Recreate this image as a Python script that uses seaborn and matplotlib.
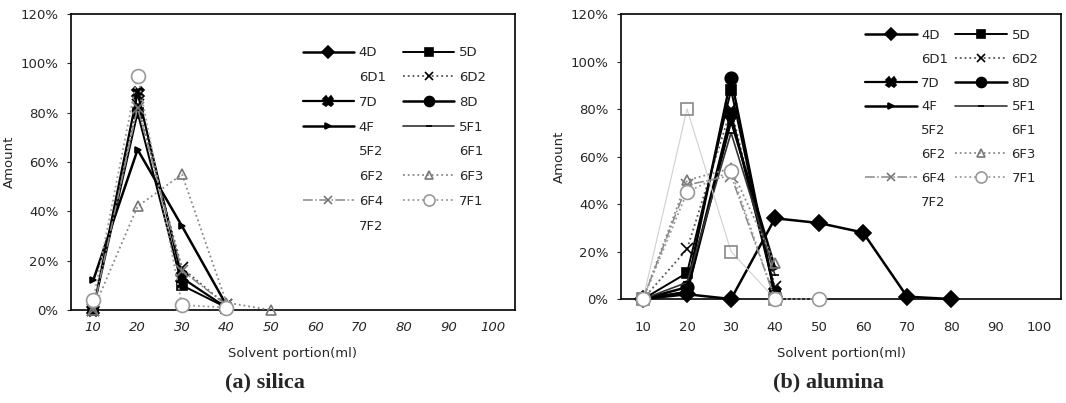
import numpy as np
import pandas as pd
import matplotlib
matplotlib.use("Agg")
import matplotlib.pyplot as plt
from matplotlib.lines import Line2D
from matplotlib.ticker import PercentFormatter
import seaborn as sns

# ---------------- data (percent) ----------------
solvent = [10, 20, 30, 40, 50, 60, 70, 80, 90, 100]
series_names = ["4D", "5D", "6D1", "6D2", "7D", "8D", "4F", "5F1",
                "5F2", "6F1", "6F2", "6F3", "6F4", "7F1", "7F2"]
N = None

# (a) silica
si_5D  = [0, 80, 10, 1, N, N, N, N, N, N]
si_6D2 = [0, 83, 17, 2, N, N, N, N, N, N]
si_7D  = [0, 88, 13, 1, N, N, N, N, N, N]
si_4F  = [12, 65, 34, 2, N, N, N, N, N, N]
si_6F3 = [0, 42, 55, 3, 0, N, N, N, N, N]
si_6F4 = [0, 82, 16, 2, N, N, N, N, N, N]
si_7F1 = [4, 95, 2, 1, N, N, N, N, N, N]

# (b) alumina
al_4D  = [0, 2, 0, 34, 32, 28, 1, 0, N, N]
al_5D  = [0, 11, 88, 2, N, N, N, N, N, N]
al_6D2 = [0, 21, 80, 5, N, N, N, N, N, N]
al_7D  = [0, 3, 78, 3, N, N, N, N, N, N]
al_8D  = [0, 5, 93, 1, N, N, N, N, N, N]
al_4F  = [0, 3, 75, 13, N, N, N, N, N, N]
al_5F1 = [0, 7, 70, 10, N, N, N, N, N, N]
al_5F2 = [0, 80, 20, 0, N, N, N, N, N, N]
al_6F3 = [0, 50, 55, 15, N, N, N, N, N, N]
al_6F4 = [0, 48, 52, 0, N, N, N, N, N, N]
al_7F1 = [0, 45, 54, 0, 0, N, N, N, N, N]

silica = {"5D": si_5D, "6D2": si_6D2, "7D": si_7D, "4F": si_4F,
          "6F3": si_6F3, "6F4": si_6F4, "7F1": si_7F1}
alumina = {"4D": al_4D, "5D": al_5D, "6D2": al_6D2, "7D": al_7D, "8D": al_8D,
           "4F": al_4F, "5F1": al_5F1, "5F2": al_5F2, "6F3": al_6F3,
           "6F4": al_6F4, "7F1": al_7F1}

y_ticks = [0, 20, 40, 60, 80, 100, 120]

# ---------------- styles ----------------
INV = "#f4f4f4"
style = {
    "4D":  dict(color="black", ls="-", lw=1.8, marker="D", ms=8, mfc="black", mec="black"),
    "5D":  dict(color="black", ls="-", lw=1.4, marker="s", ms=7, mfc="black", mec="black"),
    "6D1": dict(color=INV, ls="-", lw=1.0, marker=None, ms=0, mfc=INV, mec=INV),
    "6D2": dict(color="#555555", ls=":", lw=1.3, marker="x", ms=8, mfc="black", mec="black"),
    "7D":  dict(color="black", ls="-", lw=1.6, marker="X", ms=9, mfc="black", mec="black"),
    "8D":  dict(color="black", ls="-", lw=1.8, marker="o", ms=9, mfc="black", mec="black"),
    "4F":  dict(color="black", ls="-", lw=1.8, marker=">", ms=5, mfc="black", mec="black"),
    "5F1": dict(color="#333333", ls="-", lw=1.2, marker="_", ms=6, mfc="black", mec="black"),
    "5F2": dict(color="#d0d0d0", ls="-", lw=0.8, marker="s", ms=8, mfc="none", mec="#888888"),
    "6F1": dict(color=INV, ls="-", lw=1.0, marker=None, ms=0, mfc=INV, mec=INV),
    "6F2": dict(color=INV, ls="-", lw=1.0, marker=None, ms=0, mfc=INV, mec=INV),
    "6F3": dict(color="#888888", ls=":", lw=1.3, marker="^", ms=7, mfc="none", mec="#777777"),
    "6F4": dict(color="#888888", ls="-.", lw=1.1, marker="x", ms=8, mfc="none", mec="#777777"),
    "7F1": dict(color="#999999", ls=":", lw=1.3, marker="o", ms=10, mfc="white", mec="#999999"),
    "7F2": dict(color=INV, ls="-", lw=1.0, marker=None, ms=0, mfc=INV, mec=INV),
}
legend_hidden = {"6D1", "5F2", "6F1", "6F2", "7F2"}

sns.set_style("white")
plt.rcParams["font.family"] = ["DejaVu Sans"]

fig = plt.figure(figsize=(10.66, 4.03), dpi=100)
ax1 = fig.add_axes([0.0666, 0.2308, 0.4165, 0.7345])
ax2 = fig.add_axes([0.5826, 0.258, 0.4128, 0.7072])


def draw(ax, data):
    for name, vals in data.items():
        df = pd.DataFrame({"x": solvent, "y": vals}).dropna()
        s = style[name]
        sns.lineplot(data=df, x="x", y="y", ax=ax, color=s["color"],
                     linestyle=s["ls"], linewidth=s["lw"], marker=s["marker"],
                     markersize=s["ms"], markerfacecolor=s["mfc"],
                     markeredgecolor=s["mec"], markeredgewidth=1.2,
                     clip_on=False, zorder=3, legend=False)


def legend_handles():
    hs = []
    for name in series_names:
        s = style[name]
        if name in legend_hidden:
            hs.append(Line2D([], [], color="none"))
        else:
            hs.append(Line2D([], [], color=s["color"], ls=s["ls"], lw=s["lw"],
                             marker=s["marker"], ms=s["ms"], mfc=s["mfc"],
                             mec=s["mec"], mew=1.2))
    # reorder so that the 2-column legend reads row-wise
    order = list(range(0, 15, 2)) + list(range(1, 15, 2))
    return [hs[i] for i in order], [series_names[i] for i in order]


def style_axes(ax, italic, xpad):
    ax.set_xlim(5, 105)
    ax.set_ylim(0, 120)
    ax.set_xticks(solvent)
    ax.set_xticklabels([str(v) for v in solvent], fontsize=9.5,
                       fontstyle="italic" if italic else "normal")
    ax.set_yticks(y_ticks)
    ax.yaxis.set_major_formatter(PercentFormatter(decimals=0))
    ax.tick_params(axis="y", labelsize=9.5, length=3, pad=6, direction="out", left=True)
    ax.tick_params(axis="x", length=0, pad=xpad)
    for sp in ax.spines.values():
        sp.set_color("black")
        sp.set_linewidth(1.2)
        sp.set_visible(True)
    ax.set_xlabel("Solvent portion(ml)", fontsize=9.5, labelpad=9)
    ax.set_ylabel("Amount", fontsize=9.5, labelpad=3)


draw(ax1, silica)
draw(ax2, alumina)
style_axes(ax1, True, 8)
style_axes(ax2, False, 16)

for anchor, spacing, colsp in [((0.284, 0.885), 0.89, 1.3), ((0.8115, 0.928), 0.82, 0.55)]:
    h, l = legend_handles()
    fig.legend(h, l, loc="upper left", bbox_to_anchor=anchor, ncol=2,
               frameon=False, fontsize=9.5, handlelength=3.9, handletextpad=0.35,
               columnspacing=colsp, labelspacing=spacing, borderpad=0,
               borderaxespad=0, markerscale=0.8)

fig.text(0.249, 0.05, "(a) silica", ha="center", va="center", fontsize=16,
         fontweight="bold", family="Liberation Serif")
fig.text(0.777, 0.05, "(b) alumina", ha="center", va="center", fontsize=16,
         fontweight="bold", family="Liberation Serif")

fig.savefig("out.png", dpi=100)
